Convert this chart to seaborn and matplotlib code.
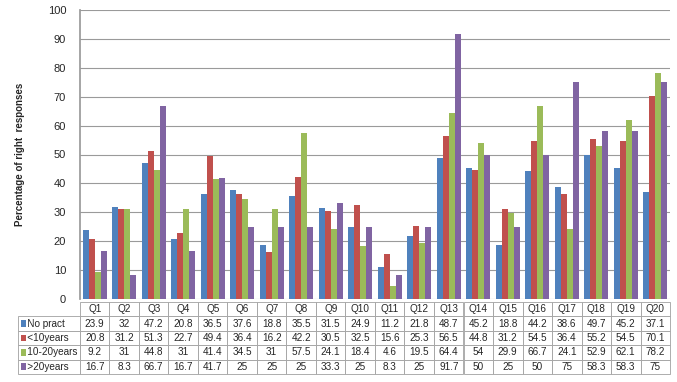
import numpy as np
import pandas as pd
import seaborn as sns
import matplotlib.pyplot as plt
from matplotlib.patches import Rectangle

questions = ["Q%d" % i for i in range(1, 21)]
groups = ["No pract", "<10years", "10-20years", ">20years"]
no_pract = [23.9, 32, 47.2, 20.8, 36.5, 37.6, 18.8, 35.5, 31.5, 24.9,
            11.2, 21.8, 48.7, 45.2, 18.8, 44.2, 38.6, 49.7, 45.2, 37.1]
lt10 = [20.8, 31.2, 51.3, 22.7, 49.4, 36.4, 16.2, 42.2, 30.5, 32.5,
        15.6, 25.3, 56.5, 44.8, 31.2, 54.5, 36.4, 55.2, 54.5, 70.1]
y10_20 = [9.2, 31, 44.8, 31, 41.4, 34.5, 31, 57.5, 24.1, 18.4,
          4.6, 19.5, 64.4, 54, 29.9, 66.7, 24.1, 52.9, 62.1, 78.2]
gt20 = [16.7, 8.3, 66.7, 16.7, 41.7, 25, 25, 25, 33.3, 25,
        8.3, 25, 91.7, 50, 25, 50, 75, 58.3, 58.3, 75]
colors = ["#4F81BD", "#C0504D", "#9BBB59", "#8064A2"]

series = [no_pract, lt10, y10_20, gt20]
df = pd.DataFrame({
    "q": questions * 4,
    "group": np.repeat(groups, 20),
    "val": np.concatenate(series),
})

sns.set_theme(style="white")
plt.rcParams['font.family'] = ['Liberation Sans', 'DejaVu Sans']

fig = plt.figure(figsize=(6.77, 3.82), dpi=100)
ax = fig.add_axes([80 / 677, 1 - 299 / 382, 590 / 677, 289 / 382])

sns.barplot(data=df, x="q", y="val", hue="group", palette=colors, ax=ax,
            width=0.82, legend=False, edgecolor="none", saturation=1)

ax.set_ylim(0, 100)
ax.set_xlim(-0.5, 19.5)
ax.set_yticks(range(0, 101, 10))
ax.tick_params(axis="y", labelsize=8, length=0, pad=10)
ax.set_xticks([])
ax.set_xlabel("")
ax.grid(axis="y", color="#9a9a9a", linewidth=0.8)
ax.set_axisbelow(True)
for s in ["top", "right", "bottom"]:
    ax.spines[s].set_visible(False)
ax.spines["left"].set_color("#9a9a9a")
ax.set_ylabel("Percentage of right  responses", fontsize=7, fontweight="bold")
ax.yaxis.set_label_coords(-0.093, 0.5)

# data table underneath
cell_text = [[""] + questions]
for g, vals in zip(groups, series):
    cell_text.append(["   " + g] + ["%g" % v for v in vals])

lab_w = 62 / 652
col_w = (1 - lab_w) / 20
tbl = ax.table(cellText=cell_text, colWidths=[lab_w] + [col_w] * 20,
               bbox=[(18 - 80) / 590, (299 - 374) / 289, 652 / 590, 72 / 289],
               cellLoc="center")
tbl.auto_set_font_size(False)
tbl.set_fontsize(7.2)
for (r, c), cell in tbl.get_celld().items():
    cell.set_edgecolor("#a0a0a0")
    cell.set_linewidth(0.6)
    if c == 0:
        cell.set_text_props(ha="left")
        cell._loc = "left"
        cell.PAD = 0.02
    if r == 0 and c == 0:
        cell.visible_edges = ""

# legend keys inside table
bx0 = (18 - 80) / 590
row_h = (72 / 289) / 5
for i, col in enumerate(colors):
    yc = (299 - 374) / 289 + row_h * (3 - i) + row_h / 2
    ax.add_patch(Rectangle((bx0 + 0.005, yc - 0.012), 0.009, 0.024,
                           facecolor=col, edgecolor="none",
                           transform=ax.transAxes, clip_on=False))

fig.savefig("out.png", dpi=100)
